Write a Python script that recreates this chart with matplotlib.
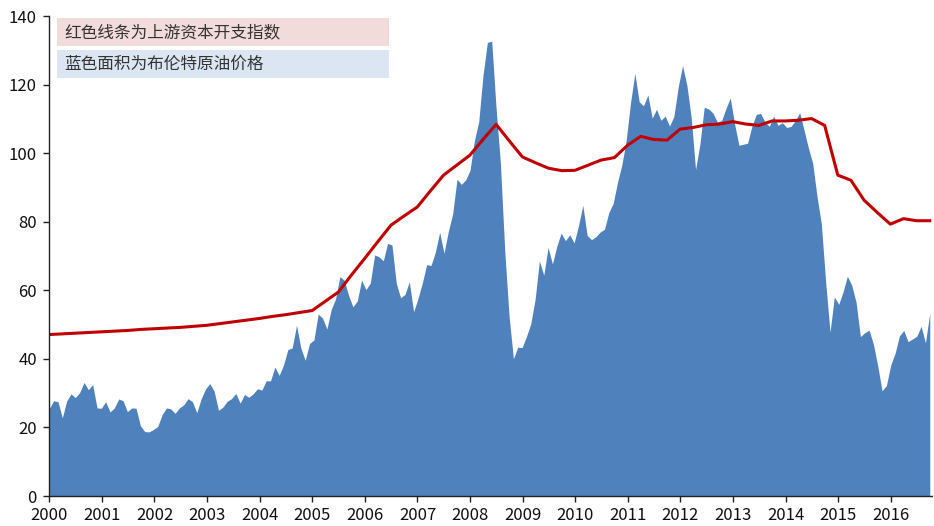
import numpy as np
import matplotlib
matplotlib.use("Agg")
import matplotlib.pyplot as plt
from matplotlib.patches import Rectangle

plt.rcParams['font.family'] = ['Liberation Sans Narrow', 'Noto Sans CJK SC', 'DejaVu Sans']

# Brent monthly price, Jan 2000 - Dec 2016
brent = [
    25.5, 27.8, 27.5, 22.8, 27.7, 29.8, 28.7, 30.2, 33.1, 31.0, 32.5, 25.7,   # 2000
    25.6, 27.5, 24.5, 25.7, 28.3, 27.8, 24.6, 25.7, 25.6, 20.5, 18.8, 18.7,   # 2001
    19.4, 20.3, 23.7, 25.7, 25.4, 24.1, 25.7, 26.6, 28.4, 27.5, 24.3, 28.3,   # 2002
    31.2, 32.8, 30.6, 25.0, 25.9, 27.6, 28.4, 29.9, 27.1, 29.6, 28.8, 29.8,   # 2003
    31.3, 30.9, 33.6, 33.6, 37.6, 35.2, 38.2, 42.7, 43.2, 49.8, 43.1, 39.6,   # 2004
    44.5, 45.5, 53.1, 51.9, 48.7, 54.4, 57.5, 64.0, 62.9, 58.5, 55.2, 56.9,   # 2005
    63.0, 60.2, 62.1, 70.3, 69.8, 68.6, 73.7, 73.2, 62.0, 57.8, 58.8, 62.5,   # 2006
    53.7, 57.6, 62.1, 67.5, 67.2, 71.1, 76.9, 70.8, 77.2, 82.3, 92.4, 90.9,   # 2007
    92.2, 95.0, 103.6, 109.1, 122.8, 132.3, 132.7, 113.2, 97.2, 71.6, 52.5, 40.0,  # 2008
    43.4, 43.3, 46.5, 50.2, 57.3, 68.6, 64.4, 72.5, 67.7, 72.8, 76.7, 74.5,   # 2009
    76.2, 73.8, 78.8, 84.8, 76.0, 74.8, 75.6, 77.0, 77.8, 82.7, 85.3, 91.5,   # 2010
    96.5, 103.7, 114.6, 123.3, 115.0, 113.8, 117.0, 110.2, 112.8, 109.6, 110.8, 107.9,  # 2011
    110.7, 119.3, 125.5, 119.8, 110.3, 95.2, 102.6, 113.4, 112.9, 111.7, 109.1, 109.5,  # 2012
    113.0, 116.1, 108.5, 102.3, 102.6, 102.9, 107.9, 111.3, 111.6, 109.1, 107.8, 110.8,  # 2013
    108.1, 108.9, 107.5, 107.8, 109.5, 111.8, 106.8, 101.6, 97.1, 87.4, 79.4, 62.3,  # 2014
    47.8, 58.1, 55.9, 59.5, 64.1, 61.5, 56.6, 46.5, 47.6, 48.4, 44.3, 38.0,   # 2015
    30.7, 32.2, 38.2, 41.6, 46.7, 48.3, 45.0, 45.8, 46.6, 49.5, 44.7, 53.3,   # 2016
]

# upstream capex index, quarterly 2000Q1 - 2016Q4
capex = [
    47.1, 47.3, 47.5, 47.7, 47.9, 48.1, 48.3, 48.6, 48.8, 49.0, 49.2, 49.5,
    49.8, 50.3, 50.8, 51.3, 51.8, 52.4, 52.9, 53.5, 54.1, 56.8, 59.5, 64.5,
    69.3, 74.2, 79.0, 81.7, 84.3, 89.0, 93.6, 96.5, 99.4, 104.0, 108.4, 103.6,
    98.9, 97.2, 95.6, 94.9, 95.0, 96.5, 98.0, 98.7, 102.3, 104.9, 104.0, 103.8,
    107.0, 107.5, 108.3, 108.5, 109.2, 108.5, 108.1, 109.4, 109.4, 109.6, 110.1, 108.1,
    93.6, 92.1, 86.3, 82.7, 79.3, 80.9, 80.3, 80.3,
]

years = [str(y) for y in range(2000, 2017)]
legend_texts = ['红色线条为上游资本开支指数', '蓝色面积为布伦特原油价格']

months = np.arange(len(brent))
quarters = np.linspace(0, len(brent) - 1, len(capex))

fig = plt.figure(figsize=(9.34, 5.26), dpi=100)
ax = fig.add_axes([0.0528, 0.057, 0.945, 0.9125])

ax.fill_between(months, brent, 0, color='#4F81BD', lw=0)
ax.plot(quarters, capex, color='#C00000', lw=2.2, solid_joinstyle='round')

ax.set_ylim(0, 140)
ax.set_xlim(0, 203.5)
ax.set_yticks(range(0, 141, 20))
# year ticks are spread a bit wider than 12 months in the source chart
ax.set_xticks(np.linspace(0, 194, len(years)))
ax.set_xticklabels(years)

for s in ['top', 'right']:
    ax.spines[s].set_visible(False)
for s in ['left', 'bottom']:
    ax.spines[s].set_color('#222222')
    ax.spines[s].set_linewidth(1.0)
ax.tick_params(axis='both', direction='out', length=4, width=1, color='#222222',
               labelsize=12, labelcolor='#111111')
ax.tick_params(axis='x', pad=4)
ax.tick_params(axis='y', pad=5)

# legend boxes
box_colors = ['#F2DCDB', '#DCE6F2']
box_tops = [0.996, 0.929]
for txt, c, top in zip(legend_texts, box_colors, box_tops):
    ax.add_patch(Rectangle((0.0087, top - 0.0585), 0.376, 0.0585, transform=ax.transAxes,
                           facecolor=c, edgecolor='none', zorder=3))
    ax.text(0.017, top - 0.030, txt, transform=ax.transAxes, fontsize=12,
            family=['Noto Sans CJK SC', 'DejaVu Sans'], color='#333333',
            va='center', ha='left', zorder=4)

fig.savefig('out.png', dpi=100)
